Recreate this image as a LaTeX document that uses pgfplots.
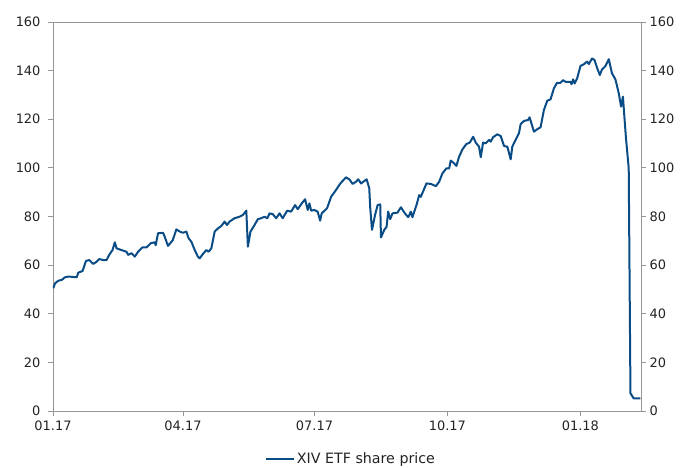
\documentclass[border=0pt]{standalone}
\usepackage{pgfplots}
\usepackage{pgfplotstable}
\pgfplotsset{compat=1.18}
\usepackage{fontspec}
\setmainfont{DejaVu Sans}
\definecolor{xivblue}{RGB}{10,76,134}
\definecolor{axgray}{RGB}{150,150,150}
\definecolor{lblgray}{RGB}{35,35,35}

% days since 01.01.2017, XIV share price
\pgfplotstableread{
day price
0.2 50.5
1.4 52.5
3.7 53.6
6.0 53.9
8.3 55.0
10.6 55.3
16.4 55.0
17.5 56.9
20.5 57.6
22.8 61.7
25.1 62.1
27.8 60.5
30.2 61.4
32.0 62.5
34.7 62.1
37.1 62.1
38.9 64.2
41.2 66.2
42.8 69.4
44.0 66.9
47.4 66.2
50.9 65.5
52.0 64.2
54.4 64.9
56.6 63.5
58.9 65.5
61.9 67.3
64.7 67.3
67.7 69.0
70.4 69.4
71.1 68.2
72.7 73.1
76.2 73.3
77.3 71.7
79.6 67.9
82.0 69.6
82.9 70.3
85.4 74.7
87.7 73.8
90.0 73.3
92.3 73.8
93.9 71.0
95.8 69.6
98.1 66.2
100.3 63.5
101.5 62.8
103.8 64.6
106.1 66.2
107.7 65.5
109.6 66.9
111.9 73.8
114.2 75.1
116.5 76.1
118.8 77.9
120.4 76.5
122.2 77.9
125.7 79.3
129.1 79.9
131.4 80.6
133.8 82.4
134.9 67.6
136.7 73.8
139.5 76.5
141.8 78.9
144.1 79.3
146.4 79.9
148.3 79.3
149.9 81.3
152.1 81.0
154.5 79.3
156.8 81.3
159.0 79.3
162.1 82.4
164.8 82.0
167.6 84.7
169.4 83.0
172.2 85.4
174.5 87.1
176.3 82.7
177.5 85.4
178.7 82.4
180.9 82.7
183.2 82.0
184.9 78.3
186.0 81.3
189.7 83.4
192.5 88.1
195.9 90.9
198.9 93.6
202.8 96.1
205.1 95.3
207.4 93.4
209.7 94.3
211.3 95.3
213.2 93.6
217.1 95.3
218.9 91.6
219.6 83.4
220.8 74.5
222.9 80.6
224.7 84.7
226.5 85.0
227.0 71.4
229.3 74.5
230.9 75.8
232.0 82.0
233.4 78.9
235.0 81.3
238.5 81.6
240.8 83.8
243.6 81.3
245.9 79.7
247.7 82.0
248.8 79.7
251.6 84.7
253.5 88.8
254.6 88.1
258.5 93.6
261.5 93.4
265.0 92.5
267.3 94.3
269.5 97.7
272.3 99.8
274.2 99.8
275.3 103.0
277.6 101.9
279.2 100.8
281.1 104.6
283.4 107.6
286.1 109.8
288.5 110.4
290.8 112.8
292.6 110.4
294.9 108.7
296.1 104.4
297.7 110.4
299.5 110.1
301.8 111.5
303.0 110.8
304.6 112.6
307.5 113.8
309.9 113.1
312.2 109.0
314.5 108.7
316.8 103.5
317.9 108.7
320.2 111.5
322.5 114.2
323.7 118.0
326.0 119.3
328.9 119.7
329.9 120.8
331.0 118.6
332.9 114.9
335.2 115.9
337.5 116.7
339.8 123.8
342.1 127.6
344.4 128.2
346.7 132.7
348.9 135.0
351.3 135.0
353.1 136.1
354.7 135.4
358.2 135.4
358.9 134.4
360.0 136.4
361.0 134.7
362.8 136.8
365.1 141.9
367.4 142.6
369.7 143.7
370.9 142.7
373.1 145.0
374.8 144.4
377.1 140.3
378.5 138.2
380.0 140.5
382.4 141.9
384.7 144.7
386.9 138.9
389.3 136.4
391.6 130.7
393.2 125.2
394.5 129.3
395.5 121.0
396.6 112.2
398.5 99.8
399.7 7.3
401.9 5.2
406.5 5.2
}\xivdata

\begin{document}
\begin{tikzpicture}
\path[use as bounding box] (-53bp,-57bp) rectangle (633bp,411bp);
\pgfplotsset{
  every axis/.append style={
    scale only axis, width=588bp, height=389bp,
    at={(0,0)}, anchor=south west,
    xmin=0, xmax=407, ymin=0, ymax=160,
    ytick={0,20,...,160},
    tick align=outside,
    major tick length=5bp,
    axis line style={axgray, line width=0.9bp},
    tick style={axgray, line width=0.9bp},
    every tick label/.append style={font=\fontsize{13}{13}\selectfont, text=lblgray},
    /pgf/number format/assume math mode=true,
  }
}
\begin{axis}[
  xtick={0,90,181,273,365},
  xticklabels={01.17,04.17,07.17,10.17,01.18},
  xtick pos=bottom, ytick pos=left,
  yticklabel style={xshift=-4bp},
  xticklabel style={yshift=-1bp},
  legend style={at={(0.507,-0.124)}, anchor=center, draw=none, fill=none,
    font=\fontsize{14.3}{14.3}\selectfont, text=lblgray},
  legend image code/.code={\draw[#1, line width=1.6bp] (0bp,0bp) -- (28bp,0bp);},
]
\addplot[xivblue, line width=2bp, line join=round] table[x=day, y=price] {\xivdata};
\addlegendentry{XIV ETF share price}
\end{axis}
\begin{axis}[
  axis x line=none, axis y line*=right,
  yticklabel pos=right,
]
\addplot[draw=none] coordinates {(0,0)};
\end{axis}
\end{tikzpicture}
\end{document}
